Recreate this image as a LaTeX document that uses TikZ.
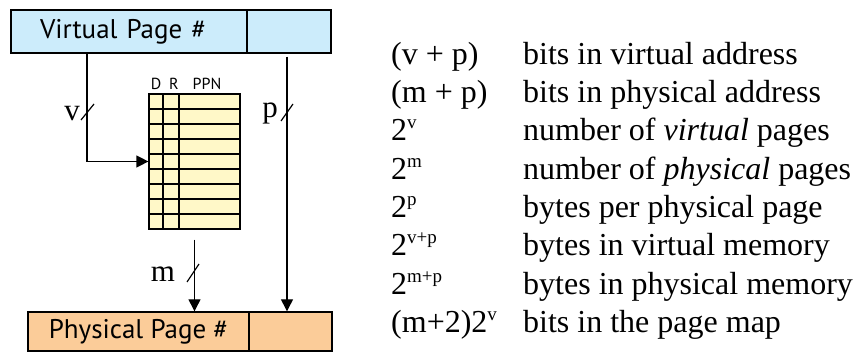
\documentclass[tikz,border=0pt]{standalone}
\usepackage{fontspec}
\setmainfont{Liberation Serif}
\newfontfamily\gill{PT Sans}
\usetikzlibrary{arrows.meta}

\definecolor{vblue}{RGB}{204,236,251}
\definecolor{porange}{RGB}{251,204,153}
\definecolor{pteyellow}{RGB}{255,248,200}

\newcommand\pw[1]{\raisebox{12pt}{\fontsize{19}{19}\selectfont #1}}

\tikzset{
  field/.style={draw,line width=1.4pt,inner sep=0pt,minimum height=43pt,
    font=\gill\fontsize{27}{27}\selectfont},
  wire/.style={line width=1.3pt},
  tick/.style={line width=1.2pt},
  lbl/.style={anchor=base,inner sep=0pt,font=\fontsize{31}{31}\selectfont},
  hdr/.style={anchor=base,inner sep=0pt,font=\gill\fontsize{16}{16}\selectfont},
  term/.style={anchor=base west,inner sep=0pt,font=\fontsize{32}{38}\selectfont},
}

\begin{document}
\begin{tikzpicture}[x=1pt,y=-1pt,>={Triangle[length=12pt,width=12pt]}]
\useasboundingbox (0,0) rectangle (857,352);
% virtual address
\path (129,31.5) node[field,fill=vblue,minimum width=236pt,text width=178pt,align=left] (vpn) {Virtual Page \#};
\path (289,31.5) node[field,fill=vblue,minimum width=84pt] (voff) {};
% physical address
\path (138.5,331.5) node[field,fill=porange,minimum width=221pt,minimum height=39pt] (ppn) {Physical Page \#};
\path (290.5,331.5) node[field,fill=porange,minimum width=83pt,minimum height=39pt] (poff) {};
% page map
\path (194.5,161.5) node[draw,line width=1.2pt,fill=pteyellow,minimum width=91pt,minimum height=135pt] (tbl) {};
\draw[line width=1.1pt] (163,94) -- (163,229);
\draw[line width=1.1pt] (179,94) -- (179,229);
\draw[line width=1.1pt] (149,109) -- (240,109);
\draw[line width=1.1pt] (149,124) -- (240,124);
\draw[line width=1.1pt] (149,139) -- (240,139);
\draw[line width=1.1pt] (149,154) -- (240,154);
\draw[line width=1.1pt] (149,169) -- (240,169);
\draw[line width=1.1pt] (149,184) -- (240,184);
\draw[line width=1.1pt] (149,199) -- (240,199);
\draw[line width=1.1pt] (149,214) -- (240,214);
\path (156,90) node[hdr] (hd) {D};
\path (174,90) node[hdr] (hr) {R};
\path (207,90) node[hdr] (hppn) {PPN};
% v
\draw[wire,->] ([xshift=-42pt]vpn.south) |- (tbl.west);
\coordinate (vbus) at (87,113);
\draw[tick] ([shift={(-6,7)}]vbus) -- ([shift={(7,-9)}]vbus);
\path (72,121) node[lbl] (vl) {v};
% p
\draw[wire,->] ([xshift=-2pt,yshift=-3pt]voff.south) -- ([xshift=-3.5pt]poff.north);
\coordinate (pbus) at (287,113);
\draw[tick] ([shift={(-6,8)}]pbus) -- ([shift={(6,-9)}]pbus);
\path (270,118) node[lbl] (pl) {p};
% m
\draw[wire,->] ([yshift=-10pt]tbl.south) -- (tbl.south |- ppn.north);
\coordinate (mbus) at (194,273);
\draw[tick] ([shift={(-7,9)}]mbus) -- ([shift={(5,-9)}]mbus);
\path (163,282) node[lbl] (ml) {m};
% terms
\path (391,64.5) node[term] (t1) {(v + p)};
\path (523,64.5) node[term] (d1) {bits in virtual address};
\path (391,103) node[term] (t2) {(m + p)};
\path (523,103) node[term] (d2) {bits in physical address};
\path (391,141) node[term] (t3) {2\pw{v}};
\path (523,141) node[term] (d3) {number of \textit{virtual} pages};
\path (391,179.5) node[term] (t4) {2\pw{m}};
\path (523,179.5) node[term] (d4) {number of \textit{physical} pages};
\path (391,218) node[term] (t5) {2\pw{p}};
\path (523,218) node[term] (d5) {bytes per physical page};
\path (391,256) node[term] (t6) {2\pw{v+p}};
\path (523,256) node[term] (d6) {bytes in virtual memory};
\path (391,294.5) node[term] (t7) {2\pw{m+p}};
\path (523,294.5) node[term] (d7) {bytes in physical memory};
\path (391,333) node[term] (t8) {(m+2)2\pw{v}};
\path (523,333) node[term] (d8) {bits in the page map};
\end{tikzpicture}
\end{document}
